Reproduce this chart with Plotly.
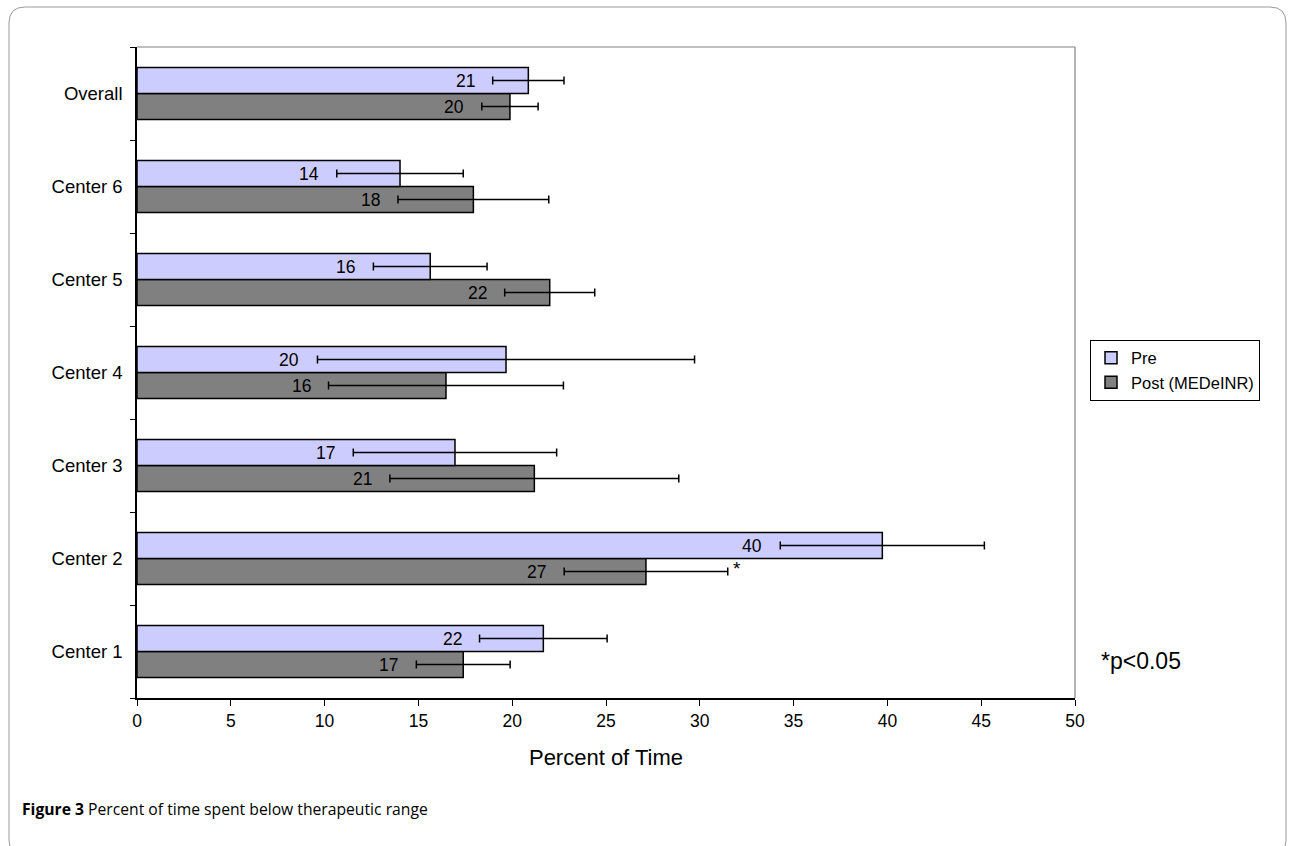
import plotly.graph_objects as go

# Percent of time below therapeutic range, by center (top to bottom as listed)
categories = ["Overall", "Center 6", "Center 5", "Center 4", "Center 3", "Center 2", "Center 1"]
pre_values = [20.86, 14.02, 15.63, 19.67, 16.95, 39.73, 21.66]
pre_errors = [1.90, 3.37, 3.03, 10.05, 5.42, 5.44, 3.40]
post_values = [19.88, 17.93, 22.0, 16.47, 21.18, 27.13, 17.39]
post_errors = [1.50, 4.02, 2.40, 6.26, 7.70, 4.36, 2.50]
significant = ["Center 2"]
x_ticks = [0, 5, 10, 15, 20, 25, 30, 35, 40, 45, 50]

W, H = 1291, 846
ML, MR, MT, MB = 137, 216, 47, 148
PW, PH = W - ML - MR, H - MT - MB

FONT = "Liberation Sans, Arial, sans-serif"


def px(x):
    return (x - ML) / PW


def py(y):
    return (H - MB - y) / PH


fig = go.Figure()

# Post first so that Pre sits above it inside each group
fig.add_trace(go.Bar(
    y=categories, x=post_values, orientation="h", name="Post (MEDeINR)",
    marker=dict(color="#808080", line=dict(color="black", width=1.5)),
    error_x=dict(type="data", array=post_errors, color="black", thickness=1.5, width=4),
    legendrank=2,
))
fig.add_trace(go.Bar(
    y=categories, x=pre_values, orientation="h", name="Pre",
    marker=dict(color="#CCCCFF", line=dict(color="black", width=1.5)),
    error_x=dict(type="data", array=pre_errors, color="black", thickness=1.5, width=4),
    legendrank=1,
))

LABEL_FONT = dict(family=FONT, size=17.5, color="black")
annotations = []
for cat, v, e in zip(categories, pre_values, pre_errors):
    annotations.append(dict(x=v - e, y=cat, yshift=13, xshift=-16, xanchor="right",
                            text=f"{round(v):d}", showarrow=False, font=LABEL_FONT))
for cat, v, e in zip(categories, post_values, post_errors):
    annotations.append(dict(x=v - e, y=cat, yshift=-13, xshift=-16, xanchor="right",
                            text=f"{round(v):d}", showarrow=False, font=LABEL_FONT))
    if cat in significant:
        annotations.append(dict(x=v + e, y=cat, yshift=-10, xshift=3, xanchor="left",
                                text="*", showarrow=False,
                                font=dict(family=FONT, size=19, color="black")))

annotations.append(dict(xref="paper", yref="paper", x=px(1099), y=py(661),
                        xanchor="left", yanchor="middle", text="*p&lt;0.05",
                        showarrow=False, font=dict(family=FONT, size=23, color="black")))
annotations.append(dict(xref="paper", yref="paper", x=px(20), y=py(809),
                        xanchor="left", yanchor="middle",
                        text="<b>Figure 3</b> Percent of time spent below therapeutic range",
                        showarrow=False,
                        font=dict(family="Open Sans, Noto Sans, sans-serif", size=15.7, color="black")))

# Rounded outer frame around the figure and caption
x0, y0, x1, y1, r = 9, 7, 1286, 856, 16
frame = (f"M {px(x0)},{py(y0 + r)} L {px(x0)},{py(y1 - r)} "
         f"Q {px(x0)},{py(y1)} {px(x0 + r)},{py(y1)} L {px(x1 - r)},{py(y1)} "
         f"Q {px(x1)},{py(y1)} {px(x1)},{py(y1 - r)} L {px(x1)},{py(y0 + r)} "
         f"Q {px(x1)},{py(y0)} {px(x1 - r)},{py(y0)} L {px(x0 + r)},{py(y0)} "
         f"Q {px(x0)},{py(y0)} {px(x0)},{py(y0 + r)} Z")

shapes = [
    dict(type="path", xref="paper", yref="paper", path=frame,
         line=dict(color="#9a9a9a", width=1)),
    dict(type="line", xref="paper", yref="paper", x0=0, x1=1, y0=1, y1=1,
         line=dict(color="#808080", width=1.2)),
    dict(type="line", xref="paper", yref="paper", x0=1, x1=1, y0=0, y1=1,
         line=dict(color="#808080", width=1.2)),
]

fig.update_layout(
    width=W, height=H,
    margin=dict(l=ML, r=MR, t=MT, b=MB, autoexpand=False),
    paper_bgcolor="white", plot_bgcolor="white",
    barmode="group", bargap=0.44, bargroupgap=0,
    font=dict(family=FONT, size=17, color="black"),
    showlegend=True,
    legend=dict(x=px(1090), y=py(370), xanchor="left", yanchor="middle",
                bgcolor="white", bordercolor="black", borderwidth=1,
                font=dict(family=FONT, size=16.5), traceorder="normal",
                itemwidth=30, tracegroupgap=0),
    annotations=annotations,
    shapes=shapes,
    xaxis=dict(range=[0, 50], tickvals=x_ticks, ticks="outside", ticklen=6,
               tickcolor="black", tickwidth=1.2, showline=True, linecolor="black",
               linewidth=1.5, showgrid=False, zeroline=False,
               tickfont=dict(family=FONT, size=17.5),
               title=dict(text="Percent of Time", font=dict(family=FONT, size=22), standoff=20)),
    yaxis=dict(categoryorder="array", categoryarray=categories[::-1],
               ticks="outside", ticklen=5, tickson="boundaries", tickcolor="black",
               tickwidth=1.2, showline=True, linecolor="black", linewidth=1.5,
               showgrid=False, zeroline=False, ticklabelstandoff=9,
               tickfont=dict(family=FONT, size=18.5)),
)

fig.write_html("out.html")
